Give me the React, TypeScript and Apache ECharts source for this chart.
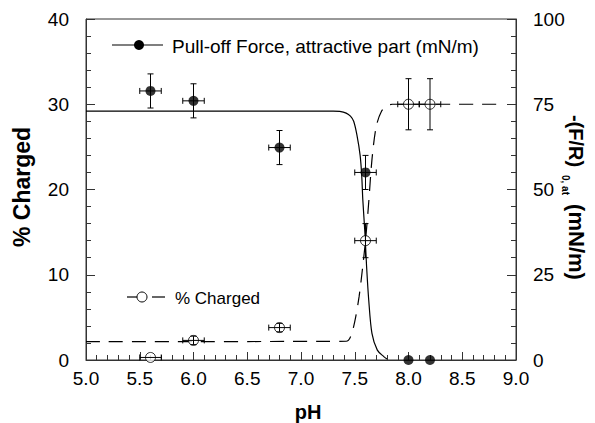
import React, { useEffect, useRef } from "react";
import * as echarts from "echarts";

// Measured points (pH)
const phPoints = [5.6, 6.0, 6.8, 7.6, 8.0, 8.2];
// Pull-off force, attractive part (mN/m) - right axis
const forceValues = [78.9, 76.0, 62.3, 55.0, 0, 0];
const forceErr = [5, 5, 5, 5, 0, 0];
const forcePhErr = [0.1, 0.1, 0.1, 0.1, 0, 0];
// % Charged - left axis
const chargedValues = [0.3, 2.3, 3.8, 14.0, 30, 30];
const chargedErr = [0, 0.5, 0.5, 2, 3, 3];
const chargedPhErr = [0.1, 0.1, 0.1, 0.1, 0.1, 0.1];

// Fitted curve for pull-off force
const forceFitPh = [5.0, 7.3, 7.36, 7.42, 7.46, 7.49, 7.52, 7.55, 7.565, 7.575, 7.595, 7.61, 7.63, 7.66, 7.71, 7.77, 7.8];
const forceFitValues = [73, 73, 72.9, 72.4, 71.5, 70, 66, 60, 54, 47, 37, 27.5, 17.6, 7.8, 2.9, 1.0, 0.3];

// Fitted curve for % charged
const chargedFitPh = [5.0, 7.42, 7.46, 7.5, 7.54, 7.57, 7.6, 7.63, 7.66, 7.7, 7.75, 7.8, 7.85, 8.87];
const chargedFitValues = [2.15, 2.2, 2.7, 4.5, 7.4, 10.5, 14, 18.5, 23.5, 27.4, 29.2, 29.8, 30, 30];

const xTicks = { min: 5.0, max: 9.0, interval: 0.5 };
const leftTicks = { min: 0, max: 40, interval: 10 };
const rightTicks = { min: 0, max: 100, interval: 25 };

const FONT = "Liberation Sans, Arial, Helvetica, sans-serif";
const AX = "#333";

function errorBarRender(params: any, api: any) {
  const x = api.value(0);
  const y = api.value(1);
  const ex = api.value(2);
  const ey = api.value(3);
  const c = api.coord([x, y]);
  const children: any[] = [];
  const cap = 3;
  const style = { stroke: "#000", lineWidth: 1 };
  if (ey > 0) {
    const top = api.coord([x, y + ey]);
    const bot = api.coord([x, y - ey]);
    children.push({ type: "line", shape: { x1: c[0], y1: top[1], x2: c[0], y2: bot[1] }, style });
    children.push({ type: "line", shape: { x1: c[0] - cap, y1: top[1], x2: c[0] + cap, y2: top[1] }, style });
    children.push({ type: "line", shape: { x1: c[0] - cap, y1: bot[1], x2: c[0] + cap, y2: bot[1] }, style });
  }
  if (ex > 0) {
    const l = api.coord([x - ex, y]);
    const r = api.coord([x + ex, y]);
    children.push({ type: "line", shape: { x1: l[0], y1: c[1], x2: r[0], y2: c[1] }, style });
    children.push({ type: "line", shape: { x1: l[0], y1: c[1] - cap, x2: l[0], y2: c[1] + cap }, style });
    children.push({ type: "line", shape: { x1: r[0], y1: c[1] - cap, x2: r[0], y2: c[1] + cap }, style });
  }
  return { type: "group", children };
}

export default function App() {
  const ref = useRef<HTMLDivElement>(null);
  useEffect(() => {
    if (!ref.current) return;
    const chart = echarts.init(ref.current, undefined, { renderer: "svg" });
    const yAxisCommon = {
      type: "value",
      axisLine: { show: true, lineStyle: { color: AX, width: 1 } },
      axisTick: { show: true, inside: true, length: 9, lineStyle: { color: AX } },
      minorTick: { show: true, splitNumber: 5, length: 5, lineStyle: { color: AX } },
      splitLine: { show: false },
      axisLabel: { color: "#000", fontSize: 19, fontFamily: FONT, margin: 17 },
    };
    chart.setOption({
      animation: false,
      backgroundColor: "#fff",
      grid: { left: 86, right: 79, top: 19, bottom: 63, show: true, borderColor: AX, borderWidth: 1 },
      xAxis: {
        type: "value",
        min: xTicks.min,
        max: xTicks.max,
        interval: xTicks.interval,
        axisLine: { show: true, lineStyle: { color: AX, width: 1 } },
        axisTick: { show: true, inside: true, length: 8, lineStyle: { color: AX } },
        minorTick: { show: true, splitNumber: 5, length: 5, lineStyle: { color: AX } },
        splitLine: { show: false },
        axisLabel: { color: "#000", fontSize: 19, fontFamily: FONT, margin: 9, formatter: (v: number) => v.toFixed(1) },
      },
      yAxis: [
        { ...yAxisCommon, position: "left", min: leftTicks.min, max: leftTicks.max, interval: leftTicks.interval },
        { ...yAxisCommon, position: "right", min: rightTicks.min, max: rightTicks.max, interval: rightTicks.interval },
      ],
      series: [
        {
          type: "line",
          yAxisIndex: 1,
          data: forceFitPh.map((p, i) => [p, forceFitValues[i]]),
          showSymbol: false,
          smooth: 0.3,
          lineStyle: { color: "#000", width: 1.2 },
          z: 2,
        },
        {
          type: "line",
          yAxisIndex: 0,
          data: chargedFitPh.map((p, i) => [p, chargedFitValues[i]]),
          showSymbol: false,
          smooth: 0.3,
          lineStyle: { color: "#000", width: 1.2, type: [14, 9] },
          z: 2,
        },
        {
          type: "scatter",
          yAxisIndex: 1,
          data: phPoints.map((p, i) => [p, forceValues[i]]),
          symbol: "circle",
          symbolSize: 10,
          itemStyle: { color: "#000" },
          z: 3,
        },
        {
          type: "scatter",
          yAxisIndex: 0,
          data: phPoints.map((p, i) => [p, chargedValues[i]]),
          symbol: "circle",
          symbolSize: 10,
          itemStyle: { color: "#fff", borderColor: "#000", borderWidth: 1 },
          z: 3,
        },
        {
          type: "custom",
          yAxisIndex: 1,
          data: phPoints.map((p, i) => [p, forceValues[i], forcePhErr[i], forceErr[i]]),
          renderItem: errorBarRender,
          z: 4,
        },
        {
          type: "custom",
          yAxisIndex: 0,
          data: phPoints.map((p, i) => [p, chargedValues[i], chargedPhErr[i], chargedErr[i]]),
          renderItem: errorBarRender,
          z: 4,
        },
      ],
      graphic: [
        // legend 1
        { type: "line", shape: { x1: 112, y1: 45, x2: 163, y2: 45 }, style: { stroke: "#000", lineWidth: 1.2 } },
        { type: "circle", shape: { cx: 139, cy: 45, r: 5 }, style: { fill: "#000" } },
        {
          type: "text", x: 172, y: 46,
          style: { text: "Pull-off Force, attractive part (mN/m)", fill: "#000", font: `19px ${FONT}`, align: "left", verticalAlign: "middle" },
        },
        // legend 2
        { type: "line", shape: { x1: 127, y1: 297, x2: 137, y2: 297 }, style: { stroke: "#000", lineWidth: 1.2 } },
        { type: "circle", shape: { cx: 142, cy: 297, r: 5 }, style: { fill: "#fff", stroke: "#000", lineWidth: 1 } },
        { type: "line", shape: { x1: 152, y1: 297, x2: 165, y2: 297 }, style: { stroke: "#000", lineWidth: 1.2 } },
        {
          type: "text", x: 175, y: 298,
          style: { text: "% Charged", fill: "#000", font: `17px ${FONT}`, align: "left", verticalAlign: "middle" },
        },
        // axis titles
        {
          type: "text", x: 22, y: 187, rotation: Math.PI / 2,
          style: { text: "% Charged", fill: "#000", font: `bold 23px ${FONT}`, align: "center", verticalAlign: "middle" },
        },
        {
          type: "text", x: 308, y: 412,
          style: { text: "pH", fill: "#000", font: `bold 20px ${FONT}`, align: "center", verticalAlign: "middle" },
        },
        {
          type: "text", x: 576, y: 141, rotation: -Math.PI / 2,
          style: { text: "-(F/R)", fill: "#000", font: `bold 20px ${FONT}`, align: "center", verticalAlign: "middle" },
        },
        {
          type: "text", x: 565, y: 185, rotation: -Math.PI / 2,
          style: { text: "0, at", fill: "#000", font: `bold 10px ${FONT}`, align: "center", verticalAlign: "middle" },
        },
        {
          type: "text", x: 576, y: 242, rotation: -Math.PI / 2,
          style: { text: "(mN/m)", fill: "#000", font: `bold 22px ${FONT}`, align: "center", verticalAlign: "middle" },
        },
      ],
    });
    return () => chart.dispose();
  }, []);
  return <div ref={ref} style={{ position: "fixed", left: 0, top: 0, width: 595, height: 423 }} />;
}
